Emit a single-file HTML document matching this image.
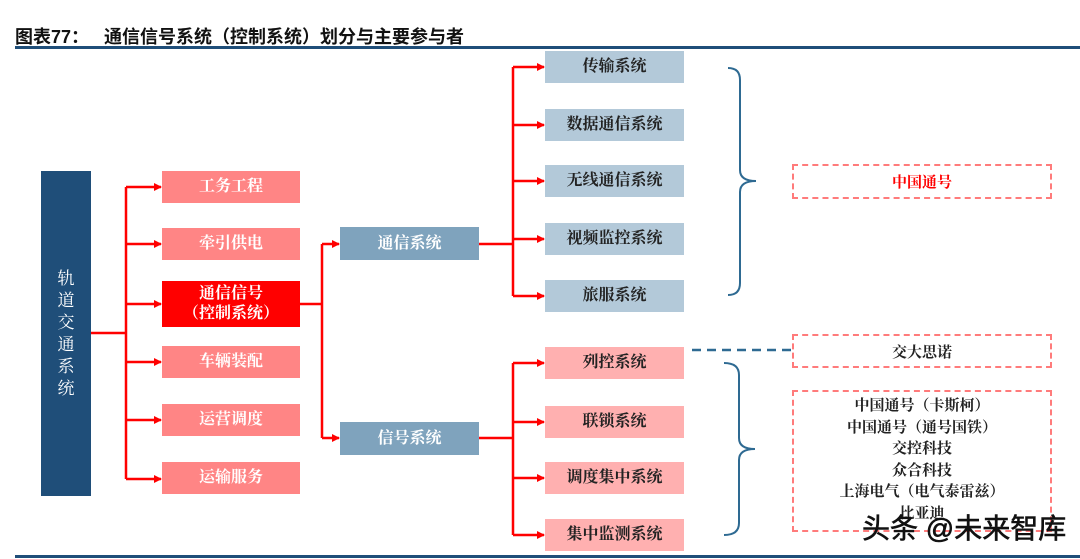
<!DOCTYPE html>
<html><head><meta charset="utf-8"><style>
body{margin:0;width:1080px;height:559px;background:#fff;position:relative;overflow:hidden;font-family:"Liberation Serif","Noto Serif CJK SC",serif;}
.b{position:absolute;display:flex;align-items:center;justify-content:center;font-size:16px;color:#222;text-align:center;line-height:20px;}
.m{background:#ff8585;color:#fff;left:162px;width:138px;height:32px;font-weight:bold;}
.c{background:#b3c9d9;left:545px;width:139px;height:32px;font-weight:bold;}
.s{background:#ffb0b0;left:545px;width:139px;height:32px;font-weight:bold;}
.g{background:#7fa3bd;color:#fff;left:340px;width:139px;height:33px;font-weight:bold;}
.d{position:absolute;border:2px dashed #ff7b7b;left:792px;width:260px;box-sizing:border-box;display:flex;align-items:center;justify-content:center;font-weight:bold;font-size:15px;text-align:center;}
</style></head><body>
<div style="position:absolute;left:15px;top:23px;font-family:'Liberation Sans','Noto Sans CJK SC',sans-serif;font-weight:bold;font-size:18px;color:#111;">图表77：&nbsp;&nbsp;&nbsp;通信信号系统（控制系统）划分与主要参与者</div>
<div style="position:absolute;left:15px;top:46px;width:1065px;height:3px;background:#1f4e79"></div>
<div style="position:absolute;left:15px;top:555px;width:1065px;height:3px;background:#1f4e79"></div>
<svg width="1080" height="559" style="position:absolute;left:0;top:0">
<defs><marker id="a" markerWidth="8" markerHeight="8" refX="7" refY="4" orient="auto" markerUnits="userSpaceOnUse"><path d="M0,0L8,4L0,8z" fill="#f00"/></marker></defs>
<g stroke="#f00" stroke-width="2.5" fill="none">
<path d="M91 333H126M126 187V479M300 304H322M322 244V438M479 244H513M513 67V296M479 438H513M513 363V535"/>
</g>
<g stroke="#f00" stroke-width="2.5" marker-end="url(#a)">
<line x1="126" y1="187" x2="161" y2="187"/><line x1="126" y1="244" x2="161" y2="244"/><line x1="126" y1="304" x2="161" y2="304"/><line x1="126" y1="362" x2="161" y2="362"/><line x1="126" y1="420" x2="161" y2="420"/><line x1="126" y1="479" x2="161" y2="479"/>
<line x1="322" y1="244" x2="339" y2="244"/><line x1="322" y1="438" x2="339" y2="438"/>
<line x1="513" y1="67" x2="544" y2="67"/><line x1="513" y1="125" x2="544" y2="125"/><line x1="513" y1="181" x2="544" y2="181"/><line x1="513" y1="239" x2="544" y2="239"/><line x1="513" y1="296" x2="544" y2="296"/>
<line x1="513" y1="363" x2="544" y2="363"/><line x1="513" y1="422" x2="544" y2="422"/><line x1="513" y1="478" x2="544" y2="478"/><line x1="513" y1="535" x2="544" y2="535"/>
</g>
<g stroke="#2e6a92" stroke-width="2" fill="none">
<path d="M728 68Q740 68 740 80V170Q740 181 756 181Q740 181 740 192V283Q740 295 728 295"/>
<path d="M724 363Q739 363 739 375V438Q739 449 755 449Q739 449 739 460V523Q739 535 724 535"/>
<path d="M692 350H792" stroke-dasharray="9,6" stroke-width="2.5"/>
</g>
</svg>
<div class="b" style="left:41px;top:171px;width:50px;height:325px;background:#1f4e79;color:#fff;font-size:17px;line-height:22px;"><div style="width:18px">轨道交通系统</div></div>
<div class="b m" style="top:171px">工务工程</div>
<div class="b m" style="top:228px">牵引供电</div>
<div class="b m" style="top:281px;height:46px;background:#f00">通信信号<br>（控制系统）</div>
<div class="b m" style="top:346px">车辆装配</div>
<div class="b m" style="top:404px">运营调度</div>
<div class="b m" style="top:462px">运输服务</div>
<div class="b g" style="top:227px">通信系统</div>
<div class="b g" style="top:422px">信号系统</div>
<div class="b c" style="top:51px">传输系统</div>
<div class="b c" style="top:109px">数据通信系统</div>
<div class="b c" style="top:165px">无线通信系统</div>
<div class="b c" style="top:223px">视频监控系统</div>
<div class="b c" style="top:280px">旅服系统</div>
<div class="b s" style="top:347px">列控系统</div>
<div class="b s" style="top:406px">联锁系统</div>
<div class="b s" style="top:462px">调度集中系统</div>
<div class="b s" style="top:519px">集中监测系统</div>
<div class="d" style="top:164px;height:35px;color:#f00">中国通号</div>
<div class="d" style="top:334px;height:34px;color:#222">交大思诺</div>
<div class="d" style="top:390px;height:142px;color:#222;line-height:21.5px;align-items:flex-start;padding-top:4px;">中国通号（卡斯柯）<br>中国通号（通号国铁）<br>交控科技<br>众合科技<br>上海电气（电气泰雷兹）<br>比亚迪</div>
<div style="position:absolute;left:862px;top:507px;font-family:'Liberation Sans','Noto Sans CJK SC',sans-serif;font-size:28px;color:#111;-webkit-text-stroke:0.6px #111;">头条 @未来智库</div>
</body></html>
